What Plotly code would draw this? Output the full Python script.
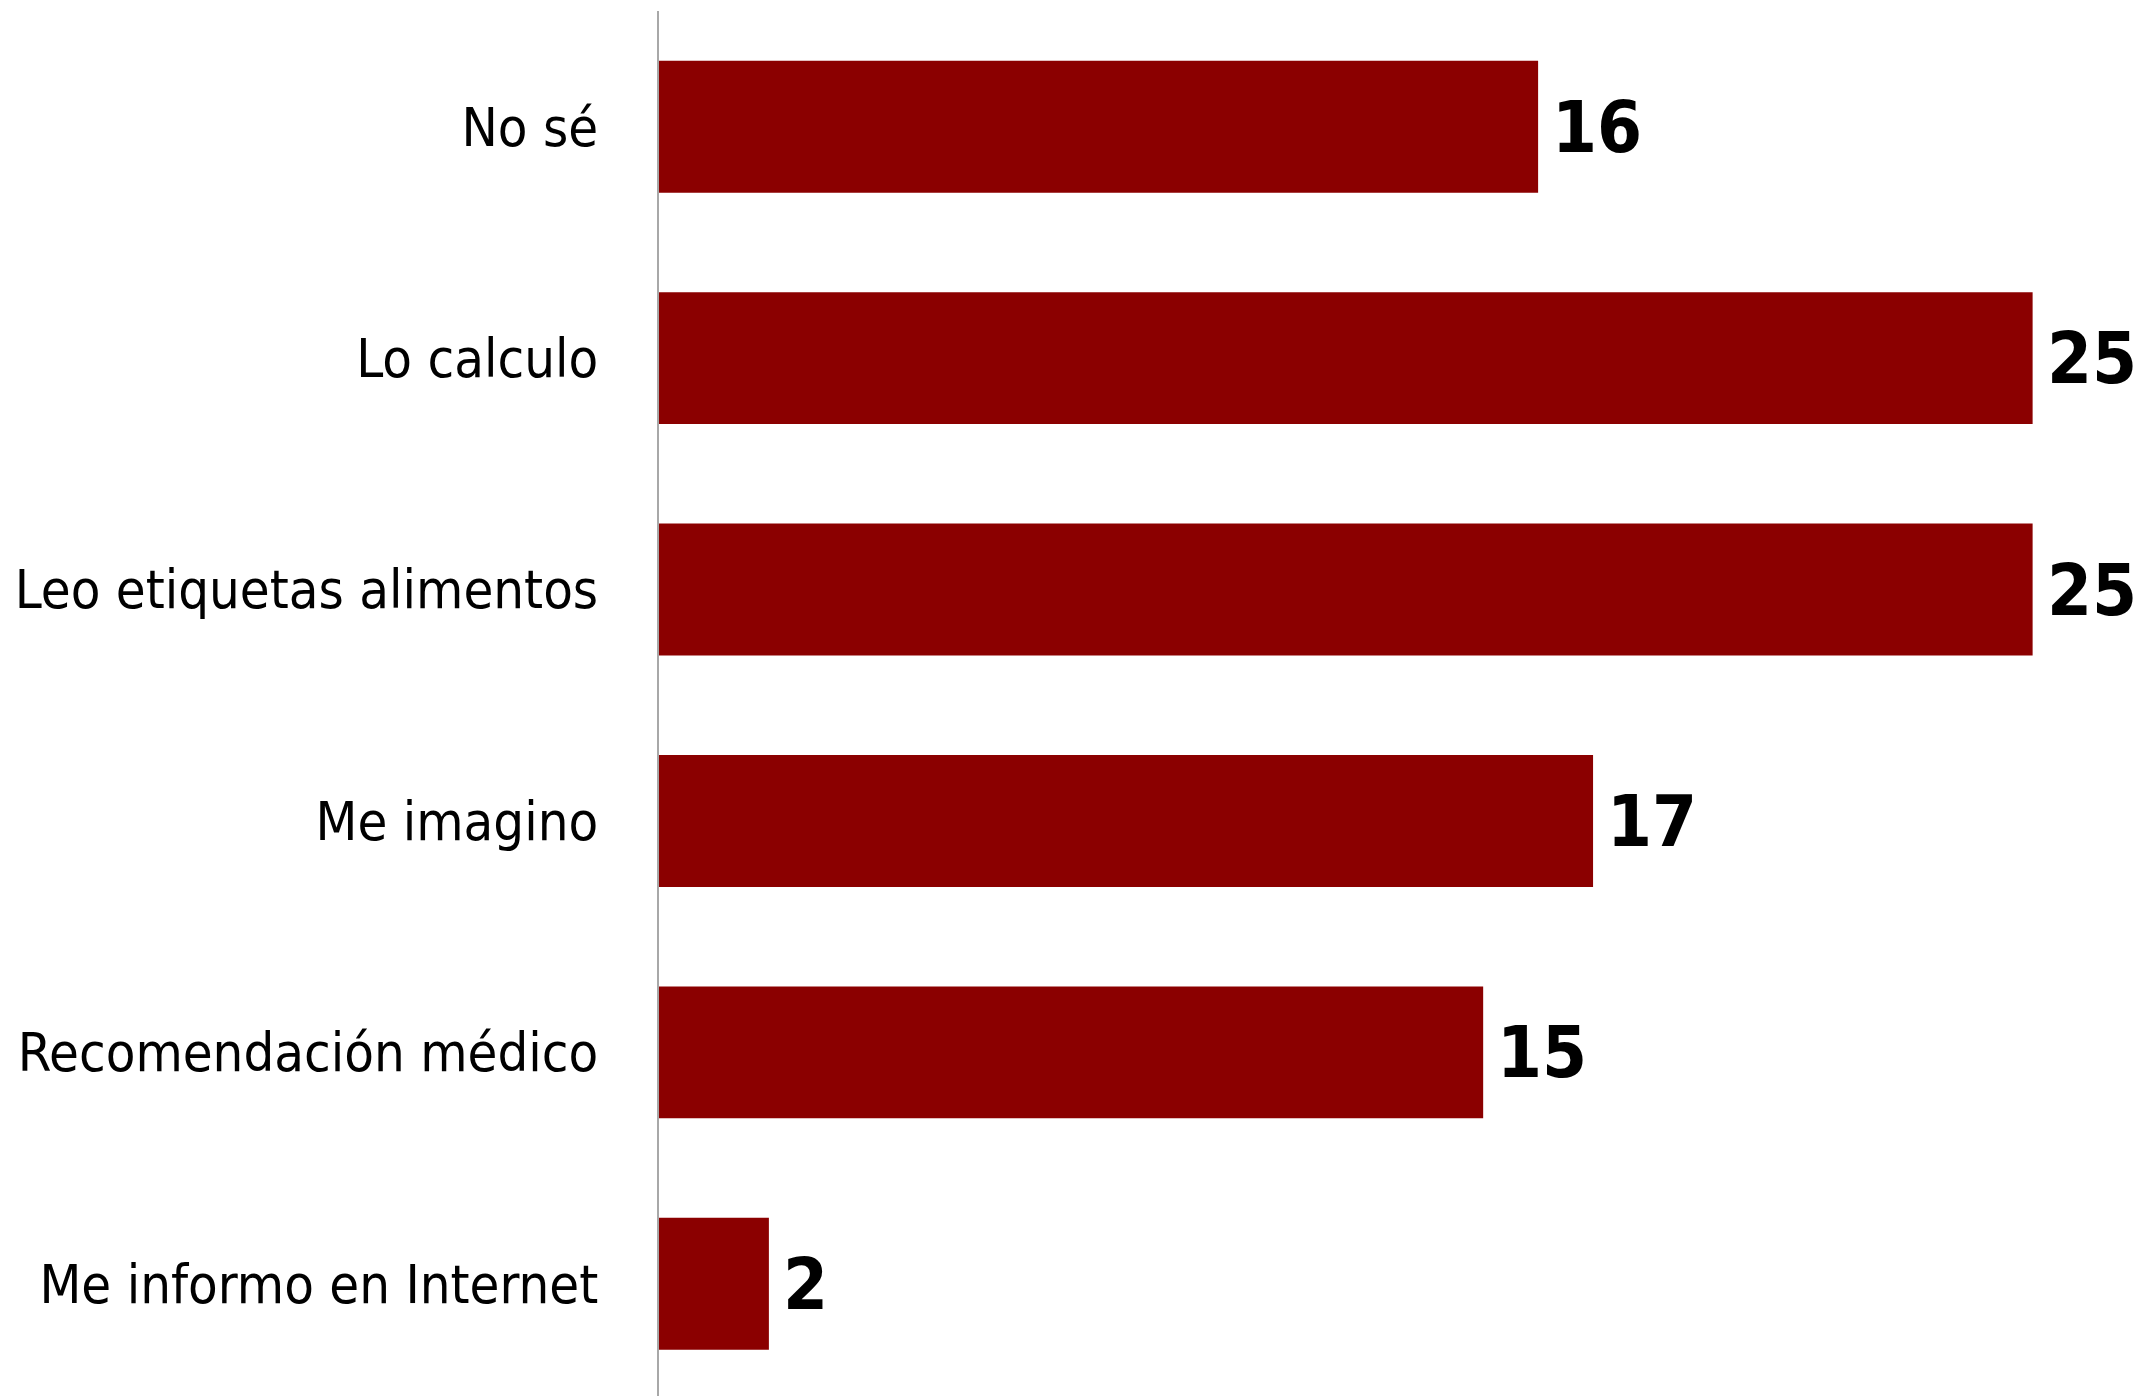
import plotly.graph_objects as go

# Survey answers, top to bottom
categories = [
    "No sé",
    "Lo calculo",
    "Leo etiquetas alimentos",
    "Me imagino",
    "Recomendación médico",
    "Me informo en Internet",
]
values = [16, 25, 25, 17, 15, 2]

BAR_COLOR = "#8B0000"
LABEL_FONT = "DejaVu Sans Condensed, Liberation Sans Narrow, sans-serif"

fig = go.Figure(
    go.Bar(
        x=values,
        y=categories,
        orientation="h",
        marker=dict(color=BAR_COLOR, line=dict(width=0)),
        width=0.57,
        hoverinfo="skip",
    )
)

# value labels just past the end of each bar
for cat, val in zip(categories, values):
    fig.add_annotation(
        x=val,
        y=cat,
        text=str(val),
        showarrow=False,
        xanchor="left",
        yanchor="middle",
        xshift=12,
        font=dict(family=LABEL_FONT, size=72, color="#000000", weight="bold"),
    )

fig.update_layout(
    width=2148,
    height=1396,
    margin=dict(l=659, r=0, t=11, b=0),
    paper_bgcolor="#ffffff",
    plot_bgcolor="#ffffff",
    showlegend=False,
    xaxis=dict(
        range=[0, 27.1],
        visible=False,
        showgrid=False,
        zeroline=False,
    ),
    yaxis=dict(
        categoryorder="array",
        categoryarray=categories,
        range=[5.485, -0.5],
        automargin=False,
        showgrid=False,
        zeroline=False,
        showline=True,
        linecolor="#a8a8a8",
        linewidth=2,
        ticks="",
        ticklabelstandoff=48,
        tickfont=dict(family=LABEL_FONT, size=54, color="#000000"),
    ),
)

fig.write_html("out.html")
